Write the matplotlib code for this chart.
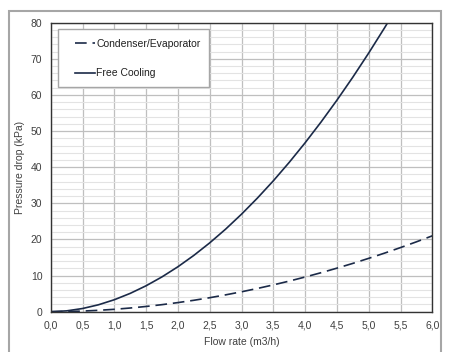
import matplotlib.pyplot as plt
from matplotlib.patches import Rectangle
from matplotlib.ticker import MultipleLocator, FuncFormatter

plt.rcParams['font.family'] = ['Liberation Sans', 'DejaVu Sans']

# flow rate (m3/h) and pressure drop (kPa)
flow = [0.0, 0.25, 0.5, 0.75, 1.0, 1.25, 1.5, 1.75, 2.0, 2.25, 2.5, 2.75, 3.0,
        3.25, 3.5, 3.75, 4.0, 4.25, 4.5, 4.75, 5.0, 5.25, 5.5, 5.75, 6.0]
cond_evap = [0.0, 0.05, 0.17, 0.38, 0.66, 1.02, 1.45, 1.95, 2.52, 3.16, 3.87, 4.66, 5.51,
             6.43, 7.42, 8.47, 9.60, 10.79, 12.05, 13.37, 14.77, 16.22, 17.75, 19.34, 21.0]
free_cooling = [0.0, 0.23, 0.88, 1.91, 3.31, 5.07, 7.18, 9.64, 12.44, 15.58, 19.05, 22.85, 26.99,
                31.45, 36.22, 41.33, 46.75, 52.49, 58.54, 64.91, 71.6, 78.6, 85.9]

navy = '#1b2a48'
txt = '#404040'
fs = 7.5

fig = plt.figure(figsize=(4.49, 3.52), dpi=100)
# outer grey frame
fig.patches.append(Rectangle((8.5 / 449, -0.05), (441 - 8.5) / 449, 1.05 - 11 / 352,
                             transform=fig.transFigure, fill=False,
                             edgecolor='#a6a6a6', linewidth=1.5))

ax = fig.add_axes([50.7 / 449, 1 - 311.7 / 352, (432.3 - 50.7) / 449, (311.7 - 22.7) / 352])

ax.plot(flow, cond_evap, color=navy, lw=1.2, dashes=(7, 3.5), label='Condenser/Evaporator')
ax.plot(flow[:len(free_cooling)], free_cooling, color=navy, lw=1.2, label='Free Cooling')

ax.set_xlim(0, 6)
ax.set_ylim(0, 80)
ax.xaxis.set_major_locator(MultipleLocator(0.5))
ax.yaxis.set_major_locator(MultipleLocator(10))
ax.yaxis.set_minor_locator(MultipleLocator(2))
ax.xaxis.set_major_formatter(FuncFormatter(lambda v, p: f'{v:.1f}'.replace('.', ',')))
ax.grid(which='major', color='#bfbfbf', lw=0.9)
ax.grid(which='minor', axis='y', color='#e3e3e3', lw=0.8)
ax.set_axisbelow(True)
ax.tick_params(which='both', length=0, labelsize=fs, colors=txt, pad=6)
for s in ax.spines.values():
    s.set_color('#333333')
    s.set_linewidth(1.0)

ax.set_xlabel('Flow rate (m3/h)', fontsize=fs, color=txt, labelpad=5)
ax.set_ylabel('Pressure drop (kPa)', fontsize=fs, color=txt, labelpad=4)

# legend box drawn by hand so the side padding can differ from the top padding
ax.add_patch(Rectangle((0.0183, 0.7765), 0.3965, 0.2007, transform=ax.transAxes,
                       facecolor='white', edgecolor='#a6a6a6', lw=1.0, zorder=3))
leg = ax.legend(loc='upper left', bbox_to_anchor=(0.0637, 0.945), fontsize=fs,
                frameon=False, borderpad=0, labelspacing=1.9,
                handlelength=1.9, handletextpad=0.15, borderaxespad=0)
leg.set_zorder(4)
for t in leg.get_texts():
    t.set_color('#202020')

fig.savefig('out.png', dpi=100)
